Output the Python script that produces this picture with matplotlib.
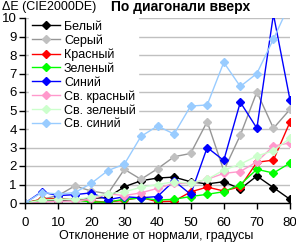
import numpy as np
import matplotlib
matplotlib.use("Agg")
import matplotlib.pyplot as plt

# Data (deviation from normal, degrees)
angles = [0, 5, 10, 15, 20, 25, 30, 35, 40, 45, 50, 55, 60, 65, 70, 75, 80]

white      = [0, 0.15, 0.1, 0.2, 0.25, 0.3, 0.88, 1.2, 1.35, 1.4, 1.15, 1.03, 1.15, 0.76, 1.46, 0.83, 0.2]
gray       = [0, 0.2, 0.4, 0.92, 0.65, 0.5, 1.82, 1.28, 1.85, 2.5, 2.68, 4.4, 1.75, 3.67, 6.0, 4.04, 5.06]
red        = [0, 0.2, 0.25, 0.16, 0.1, 0.05, 0.15, 0.3, 0.07, 0.1, 0.6, 0.86, 0.65, 0.88, 2.2, 2.32, 4.38]
green      = [0, 0.16, 0.2, 0.18, 0.05, 0.05, 0.2, 0.27, 0.16, 0.2, 0.35, 0.47, 0.61, 1.0, 1.82, 1.62, 2.16]
blue       = [0, 0.6, 0.4, 0.45, 0.55, 0.18, 0.34, 0.28, 0.35, 1.2, 0.47, 3.0, 2.3, 5.45, 4.04, 10.2, 5.57]
lt_red     = [0, 0.05, 0.1, 0.1, 0.2, 0.5, 0.4, 0.55, 0.79, 1.06, 1.06, 1.28, 1.6, 1.7, 2.23, 3.08, 3.25]
lt_green   = [0, 0.15, 0.2, 0.2, 0.3, 0.5, 0.6, 0.85, 1.0, 1.15, 1.06, 1.28, 1.78, 2.1, 2.54, 2.83, 3.5]
lt_blue    = [0, 0.56, 0.49, 0.56, 1.06, 1.75, 2.1, 3.6, 4.16, 3.73, 5.24, 5.3, 7.6, 6.3, 7.0, 8.86, 10.8]

series = [
    ("Белый", white, "#000000", "#000000"),
    ("Серый", gray, "#969696", "#c0c0c0"),
    ("Красный", red, "#ff0000", "#ff0000"),
    ("Зеленый", green, "#00ff00", "#00ff00"),
    ("Синий", blue, "#0000ff", "#0000ff"),
    ("Св. красный", lt_red, "#ff99cc", "#ff99cc"),
    ("Св. зеленый", lt_green, "#ccffcc", "#ccffcc"),
    ("Св. синий", lt_blue, "#99ccff", "#99ccff"),
]

plt.rcParams["font.family"] = ["Liberation Sans", "DejaVu Sans"]
plt.rcParams["font.size"] = 9

fig = plt.figure(figsize=(2.96, 2.44), dpi=100)
ax = fig.add_axes([25 / 296, 41 / 244, 265 / 296, 185 / 244])

for name, vals, lc, mc in series:
    ax.plot(angles, vals, color=lc, lw=1.0, marker="D", ms=4,
            mfc=mc, mec=mc, label=name)

ax.set_xlim(0, 80)
ax.set_ylim(0, 10)
ax.set_xticks(range(0, 81, 10))
ax.set_yticks(range(0, 11))
ax.yaxis.grid(True, color="#c0c0c0", lw=1)
ax.set_axisbelow(True)
for s in ("top", "right"):
    ax.spines[s].set_visible(False)
ax.spines["left"].set_linewidth(1)
ax.spines["bottom"].set_linewidth(1)
ax.tick_params(axis="both", direction="out", length=4, width=1, labelsize=9.5, pad=2)
ax.tick_params(axis="x", pad=6)

fig.text(2 / 296, 1 - 7 / 244, "ΔE (CIE2000DE)", fontsize=9, va="center", ha="left")
fig.text(181 / 296, 1 - 7 / 244, "По диагонали вверх", fontsize=10,
         fontweight="bold", va="center", ha="center")
fig.text(156 / 296, 1 - 236 / 244, "Отклонение от нормали, градусы", fontsize=9,
         va="center", ha="center")

leg = ax.legend(loc="upper left", bbox_to_anchor=(29 / 296, 1 - 18 / 244),
                bbox_transform=fig.transFigure, frameon=True, fancybox=False,
                edgecolor="white", facecolor="white", framealpha=1,
                fontsize=9, handlelength=2.3, handletextpad=0.3,
                labelspacing=0.14, borderpad=0.2, borderaxespad=0)

fig.savefig("out.png", dpi=100)
